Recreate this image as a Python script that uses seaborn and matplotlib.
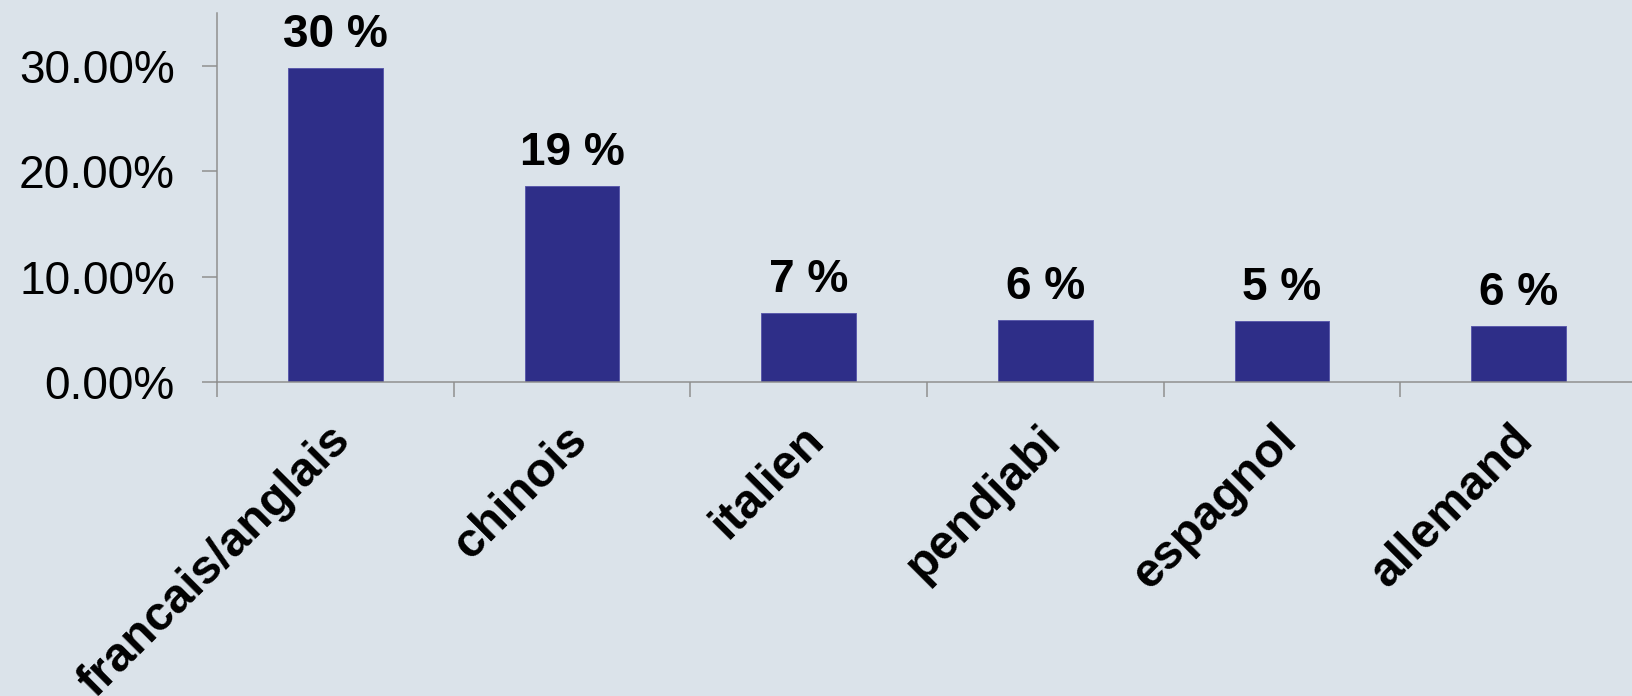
import matplotlib
matplotlib.use('Agg')
import matplotlib.pyplot as plt
import matplotlib.transforms as mtransforms
import seaborn as sns
from matplotlib.ticker import PercentFormatter

# données
langues = ['francais/anglais', 'chinois', 'italien', 'pendjabi', 'espagnol', 'allemand']
parts = [0.298, 0.186, 0.0655, 0.0586, 0.0579, 0.0535]
etiquettes = ['30 %', '19 %', '7 %', '6 %', '5 %', '6 %']
graduations = [0.0, 0.10, 0.20, 0.30]

fond = '#dbe3ea'
bleu = '#2e2e88'
gris = '#8e8e8e'

sns.set_style('ticks')
plt.rcParams['font.family'] = ['Liberation Sans', 'DejaVu Sans']

fig = plt.figure(figsize=(1632 / 72, 696 / 72), dpi=72, facecolor=fond)
ax = fig.add_axes([217 / 1632, 1 - 382 / 696, (1637 - 217) / 1632, (382 - 13) / 696])
ax.set_facecolor(fond)

sns.barplot(x=langues, y=parts, color=bleu, saturation=1, width=0.4,
            edgecolor='#5b5bab', linewidth=1, ax=ax)

for i, (h, lbl) in enumerate(zip(parts, etiquettes)):
    ax.annotate(lbl, (i, h), xytext=(0, 21), textcoords='offset points',
                ha='center', va='baseline', fontsize=46, fontweight='bold', color='black')

ax.set_ylim(0, 0.35)
ax.set_yticks(graduations)
ax.yaxis.set_major_formatter(PercentFormatter(1.0, decimals=2))
ax.set_xlim(-0.5, 5.5)
ax.set_xticks([i - 0.5 for i in range(7)], minor=True)
ax.set_xlabel('')
ax.set_ylabel('')

for s in ['top', 'right']:
    ax.spines[s].set_visible(False)
for s in ['left', 'bottom']:
    ax.spines[s].set_color(gris)
    ax.spines[s].set_linewidth(1.5)

ax.tick_params(axis='y', length=15, width=1.5, color=gris, pad=27, labelsize=46, labelcolor='black')
ax.tick_params(axis='x', which='major', length=0, pad=35, labelsize=48, labelcolor='black')
ax.tick_params(axis='x', which='minor', length=15, width=1.5, color=gris, direction='out')
decalage = mtransforms.ScaledTranslation(-8 / 72, 0, fig.dpi_scale_trans)
for t in ax.get_xticklabels():
    t.set_rotation(45)
    t.set_ha('right')
    t.set_va('top')
    t.set_rotation_mode('anchor')
    t.set_fontweight('bold')
    t.set_transform(t.get_transform() + decalage)

fig.savefig('out.png', dpi=72, facecolor=fond)
